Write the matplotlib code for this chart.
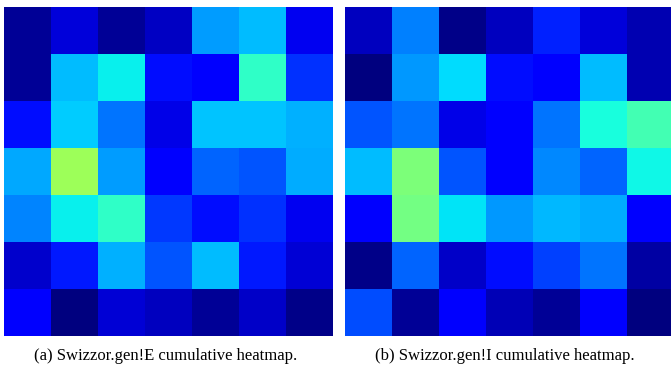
import numpy as np
import matplotlib.pyplot as plt

# Значения тепловых карт (7x7), считанные по цветам jet
heat_e = [
    [0.02, 0.08, 0.02, 0.06, 0.28, 0.31, 0.10],
    [0.02, 0.31, 0.36, 0.14, 0.12, 0.41, 0.175],
    [0.14, 0.325, 0.24, 0.09, 0.32, 0.32, 0.30],
    [0.29, 0.54, 0.28, 0.12, 0.225, 0.21, 0.295],
    [0.255, 0.36, 0.41, 0.18, 0.14, 0.175, 0.10],
    [0.07, 0.15, 0.30, 0.21, 0.31, 0.15, 0.075],
    [0.115, 0.0, 0.075, 0.055, 0.02, 0.065, 0.01],
]

heat_i = [
    [0.055, 0.25, 0.01, 0.055, 0.16, 0.08, 0.045],
    [0.0, 0.275, 0.34, 0.14, 0.12, 0.31, 0.045],
    [0.21, 0.24, 0.09, 0.12, 0.24, 0.38, 0.43],
    [0.31, 0.50, 0.21, 0.12, 0.26, 0.225, 0.37],
    [0.115, 0.49, 0.35, 0.275, 0.305, 0.295, 0.115],
    [0.01, 0.225, 0.065, 0.14, 0.19, 0.24, 0.035],
    [0.2, 0.02, 0.115, 0.05, 0.02, 0.115, 0.0],
]

captions = ['(a) Swizzor.gen!E cumulative heatmap.',
            '(b) Swizzor.gen!I cumulative heatmap.']

W, H = 671, 372
fig = plt.figure(figsize=(W / 100, H / 100), dpi=100)

boxes = [(4, 329), (345, 329)]
cap_x = [166, 505]
for (x0, w), data, cap, cx in zip(boxes, [heat_e, heat_i], captions, cap_x):
    ax = fig.add_axes([x0 / W, (H - 336) / H, w / W, 329 / H])
    ax.imshow(np.array(data), cmap='jet', vmin=0, vmax=1,
              interpolation='nearest', aspect='auto')
    ax.axis('off')
    fig.text(cx / W, (H - 356) / H, cap, ha='center', va='center',
             family='Liberation Serif', fontsize=12)

fig.savefig('out.png', dpi=100)
